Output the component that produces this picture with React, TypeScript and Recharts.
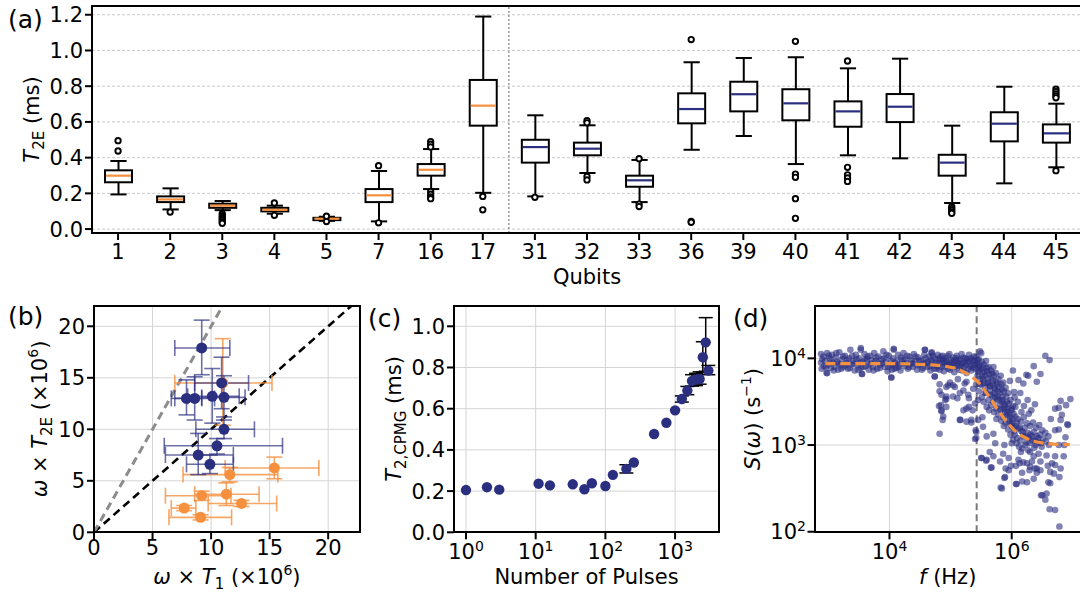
import {
  Bar,
  CartesianGrid,
  ComposedChart,
  ErrorBar,
  ReferenceLine,
  Scatter,
  XAxis,
  YAxis,
} from "recharts";

const FONT = "'DejaVu Sans', Verdana, sans-serif";
const NAVY = "#2b2f80";
const ORANGE = "#f5903e";
const GRID = "#d4d4d4";
const FS = 21;

// ---------- (a) T2E distribution per qubit ----------
const qubits = ["1", "2", "3", "4", "5", "7", "16", "17", "31", "32", "33", "36", "39", "40", "41", "42", "43", "44", "45"];
const orangeQubits = ["1", "2", "3", "4", "5", "7", "16", "17"];
const whiskerLow = [0.194, 0.11, 0.106, 0.086, 0.046, 0.043, 0.224, 0.203, 0.183, 0.314, 0.151, 0.444, 0.521, 0.364, 0.413, 0.396, 0.146, 0.256, 0.346];
const quart1 = [0.262, 0.151, 0.119, 0.099, 0.05, 0.151, 0.299, 0.579, 0.372, 0.413, 0.237, 0.592, 0.659, 0.609, 0.573, 0.599, 0.299, 0.491, 0.484];
const medians = [0.299, 0.166, 0.131, 0.108, 0.058, 0.189, 0.332, 0.691, 0.459, 0.45, 0.273, 0.672, 0.755, 0.704, 0.659, 0.685, 0.372, 0.59, 0.536];
const quart3 = [0.329, 0.183, 0.142, 0.119, 0.063, 0.224, 0.364, 0.835, 0.5, 0.484, 0.299, 0.76, 0.825, 0.783, 0.715, 0.756, 0.416, 0.654, 0.586];
const whiskerHigh = [0.381, 0.228, 0.157, 0.131, 0.069, 0.325, 0.448, 1.19, 0.637, 0.581, 0.387, 0.934, 0.958, 0.962, 0.9, 0.954, 0.579, 0.797, 0.702];
const outliers: Record<string, number[]> = {
  "1": [0.495, 0.437],
  "2": [0.095],
  "3": [0.086, 0.075, 0.066, 0.058, 0.049, 0.04, 0.032],
  "4": [0.146, 0.077],
  "5": [0.072, 0.042],
  "7": [0.355, 0.035],
  "16": [0.49, 0.475, 0.46, 0.21, 0.195, 0.18, 0.17],
  "17": [0.183, 0.108],
  "31": [0.178],
  "32": [0.607, 0.595, 0.294, 0.275],
  "33": [0.394, 0.14, 0.126],
  "36": [1.061, 0.043, 0.038],
  "40": [1.051, 0.308, 0.29, 0.17, 0.06],
  "41": [0.941, 0.346, 0.304, 0.286, 0.267],
  "43": [0.125, 0.115, 0.105, 0.095, 0.088],
  "45": [0.783, 0.77, 0.757, 0.745, 0.735, 0.327],
};
const t2eTicks = [0, 0.2, 0.4, 0.6, 0.8, 1.0, 1.2];

// ---------- (b) omega*T2E vs omega*T1 ----------
const navyT1 = [9.2, 10.9, 7.9, 8.6, 10.1, 11.1, 11.1, 10.5, 8.9, 9.9];
const navyT1Lo = [6.9, 8.6, 6.6, 6.9, 8.0, 9.2, 8.7, 6.0, 6.1, 7.9];
const navyT1Hi = [11.6, 13.2, 9.2, 10.3, 12.4, 12.9, 13.7, 16.1, 11.9, 11.9];
const navyT2 = [17.9, 14.5, 13.0, 13.0, 13.2, 13.1, 10.0, 8.4, 7.5, 6.6];
const navyT2Lo = [15.3, 12.0, 11.4, 10.9, 10.6, 11.2, 9.1, 7.6, 5.6, 5.7];
const navyT2Hi = [20.6, 17.0, 14.8, 15.1, 15.9, 15.2, 10.9, 9.1, 9.6, 7.5];
const orangeT1 = [15.4, 11.6, 9.2, 11.3, 12.6, 7.7, 9.1, 11.0];
const orangeT1Lo = [11.2, 7.6, 6.1, 8.6, 9.75, 6.6, 6.4, 6.9];
const orangeT1Hi = [19.2, 15.7, 11.7, 14.1, 15.6, 8.7, 11.75, 15.2];
const orangeT2 = [6.25, 5.6, 3.55, 3.7, 2.8, 2.35, 1.45, 14.5];
const orangeT2Lo = [5.2, 4.9, 3.1, 2.6, 2.5, 2.1, 1.2, 10.4];
const orangeT2Hi = [7.3, 6.3, 4.0, 4.8, 3.1, 2.6, 1.7, 18.8];
const ratioLines = [1, 2];
const omegaTicks = [0, 5, 10, 15, 20];

// ---------- (c) T2,CPMG vs number of pulses ----------
const pulses = [1, 2, 3, 11, 16, 34, 50, 64, 100, 128, 200, 256, 500, 750, 1000, 1250, 1500, 1750, 2000, 2250, 2500, 2750, 3000];
const t2cpmg = [0.205, 0.219, 0.207, 0.236, 0.228, 0.233, 0.209, 0.238, 0.225, 0.279, 0.308, 0.339, 0.477, 0.532, 0.592, 0.647, 0.688, 0.735, 0.742, 0.744, 0.85, 0.922, 0.785];
const t2ErrDown = [0, 0, 0, 0, 0, 0, 0, 0, 0, 0, 0.02, 0, 0, 0, 0, 0.015, 0.02, 0.025, 0.03, 0.025, 0.075, 0.14, 0.02];
const t2ErrUp = [0, 0, 0, 0, 0, 0, 0, 0, 0, 0, 0.02, 0, 0, 0, 0, 0.015, 0.02, 0.03, 0.03, 0.035, 0.075, 0.12, 0.025];
const cpmgTicks = [0, 0.2, 0.4, 0.6, 0.8, 1.0];
const pulseTicks = [1, 10, 100, 1000];

// ---------- (d) noise spectrum, [log10 f, log10 S] ----------
const plateauLog: [number, number][] = [
  [2.88, 4.05], [2.88, 3.95], [2.89, 3.88], [2.92, 4.02], [2.93, 3.91], [2.95, 3.97], [2.97, 3.83], [2.98, 4.06], [3.0, 3.93], [3.02, 4.0],
  [3.04, 3.89], [3.06, 4.04], [3.08, 3.95], [3.1, 3.9], [3.12, 4.01], [3.14, 3.96], [3.16, 3.87], [3.18, 4.07], [3.2, 3.93], [3.22, 3.99],
  [3.25, 3.9], [3.27, 4.03], [3.29, 3.95], [3.32, 3.88], [3.34, 4.0], [3.36, 4.1], [3.38, 3.93], [3.41, 3.97], [3.43, 3.86], [3.45, 4.04],
  [3.48, 3.92], [3.5, 4.0], [3.53, 4.12], [3.53, 3.89], [3.55, 3.82], [3.56, 3.96], [3.59, 4.05], [3.61, 3.91], [3.63, 3.99], [3.66, 3.87],
  [3.68, 4.03], [3.7, 3.94], [3.73, 3.9], [3.75, 4.06], [3.77, 3.97], [3.8, 3.88], [3.82, 4.02], [3.85, 3.93], [3.87, 3.99], [3.9, 4.08],
  [3.92, 3.9], [3.94, 3.96], [3.97, 3.85], [3.99, 4.03], [4.01, 3.92], [4.03, 3.78], [4.04, 3.87], [4.06, 4.0], [4.07, 4.11], [4.09, 3.95],
  [4.11, 3.89], [4.14, 4.04], [4.16, 3.93], [4.18, 3.86], [4.21, 3.98], [4.23, 4.06], [4.26, 3.91], [4.28, 3.95], [4.3, 3.88], [4.33, 4.02],
  [4.35, 3.94], [4.38, 3.9], [4.4, 4.05], [4.42, 3.97], [4.45, 3.87], [4.47, 4.01], [4.5, 3.93], [4.52, 3.98], [4.55, 3.89], [4.57, 4.04],
  [4.58, 4.1], [4.6, 3.95], [4.62, 3.9], [4.65, 4.02], [4.67, 3.86], [4.69, 4.07], [4.7, 3.96], [4.72, 3.92], [4.74, 3.79], [4.75, 4.0],
  [4.77, 3.88], [4.79, 4.04], [4.81, 3.94], [4.83, 3.99], [4.85, 3.9], [4.87, 4.03], [4.89, 3.85], [4.9, 3.96], [4.92, 4.0], [4.94, 3.92],
  [4.96, 3.88], [4.98, 4.05], [5.0, 3.95], [5.02, 3.9], [5.04, 4.01], [5.06, 3.84], [5.08, 3.97], [5.1, 4.03], [5.12, 3.92], [5.14, 3.87],
  [5.16, 3.99], [5.18, 4.05], [5.2, 3.94], [5.22, 3.89], [5.24, 4.0], [5.26, 3.83], [5.28, 3.96], [5.3, 4.04], [5.32, 3.91], [5.34, 3.86],
  [5.36, 3.98], [5.38, 4.02], [5.4, 3.93],
  [2.9, 3.99], [2.96, 3.9], [3.01, 4.03], [3.05, 3.96], [3.09, 3.86], [3.13, 4.06], [3.17, 3.94], [3.21, 3.88], [3.24, 4.02], [3.28, 3.92],
  [3.31, 3.98], [3.35, 3.89], [3.39, 4.03], [3.42, 3.94], [3.46, 3.99], [3.49, 3.87], [3.52, 3.95], [3.57, 3.9], [3.6, 3.99], [3.64, 4.02],
  [3.67, 3.93], [3.71, 3.98], [3.74, 3.86], [3.78, 4.01], [3.81, 3.95], [3.84, 3.89], [3.88, 3.94], [3.91, 4.0], [3.95, 4.04], [3.98, 3.9],
  [4.02, 3.97], [4.05, 3.93], [4.08, 3.88], [4.12, 3.97], [4.15, 3.9], [4.19, 4.01], [4.22, 3.94], [4.25, 3.99], [4.29, 4.03], [4.32, 3.9],
  [4.36, 3.98], [4.39, 3.94], [4.43, 4.02], [4.46, 3.92], [4.49, 3.97], [4.53, 3.87], [4.56, 3.94], [4.59, 4.0], [4.63, 3.96], [4.66, 3.91],
  [4.68, 3.98], [4.71, 4.03], [4.73, 3.88], [4.76, 3.95], [4.78, 3.91], [4.8, 3.99], [4.82, 3.87], [4.84, 4.02], [4.86, 3.95], [4.88, 3.98],
  [4.91, 3.91], [4.93, 3.97], [4.95, 4.03], [4.97, 3.93], [4.99, 3.87], [5.01, 3.98], [5.03, 3.93], [5.05, 3.96], [5.07, 3.9], [5.09, 4.0],
  [5.11, 3.95], [5.13, 3.98], [5.15, 3.91], [5.17, 3.94], [5.19, 3.86], [5.21, 4.01], [5.23, 3.95], [5.25, 3.92], [5.27, 3.99], [5.29, 3.88],
  [5.31, 3.97], [5.33, 4.0], [5.35, 3.92], [5.37, 3.89], [5.39, 3.97],
];
const rolloffLog: [number, number][] = [
  [5.42, 4.02], [5.43, 3.95], [5.41, 3.88], [5.44, 3.8], [5.42, 3.7],
  [5.46, 3.99], [5.47, 3.92], [5.45, 3.84], [5.48, 3.76], [5.46, 3.62],
  [5.5, 4.06], [5.51, 3.96], [5.49, 3.88], [5.52, 3.79], [5.5, 3.7], [5.51, 3.55],
  [5.54, 3.93], [5.55, 3.85], [5.53, 3.76], [5.56, 3.66], [5.54, 3.5],
  [5.58, 3.97], [5.59, 3.89], [5.57, 3.8], [5.6, 3.71], [5.58, 3.6], [5.59, 3.44],
  [5.62, 3.9], [5.63, 3.82], [5.61, 3.72], [5.64, 3.63], [5.62, 3.52], [5.63, 3.4],
  [5.66, 3.86], [5.67, 3.77], [5.65, 3.68], [5.68, 3.57], [5.66, 3.46],
  [5.7, 3.9], [5.71, 3.8], [5.69, 3.7], [5.72, 3.6], [5.7, 3.5], [5.71, 3.38],
  [5.74, 3.83], [5.75, 3.73], [5.73, 3.64], [5.76, 3.53], [5.74, 3.42], [5.75, 3.3],
  [5.78, 3.76], [5.79, 3.67], [5.77, 3.56], [5.8, 3.46], [5.78, 3.35],
  [5.82, 3.8], [5.83, 3.7], [5.81, 3.6], [5.84, 3.5], [5.82, 3.4], [5.83, 3.28],
  [5.86, 3.72], [5.87, 3.62], [5.85, 3.52], [5.88, 3.42], [5.86, 3.32], [5.87, 3.22],
  [5.9, 3.66], [5.91, 3.56], [5.89, 3.45], [5.92, 3.35], [5.9, 3.25],
  [5.94, 3.6], [5.95, 3.48], [5.93, 3.38], [5.96, 3.28], [5.94, 3.18],
  [5.98, 3.52], [5.99, 3.42], [5.97, 3.32], [6.0, 3.22], [5.98, 3.12],
  [6.02, 3.45], [6.03, 3.36], [6.01, 3.26], [6.04, 3.16], [6.02, 3.06],
  [5.44, 3.98], [5.45, 3.9], [5.47, 3.86], [5.48, 3.7], [5.52, 3.9], [5.53, 3.83], [5.55, 3.72], [5.56, 3.6], [5.6, 3.85], [5.61, 3.77],
  [5.64, 3.68], [5.65, 3.58], [5.68, 3.83], [5.69, 3.74], [5.72, 3.66], [5.73, 3.55], [5.76, 3.7], [5.77, 3.62], [5.8, 3.52], [5.81, 3.42],
  [5.84, 3.64], [5.85, 3.56], [5.88, 3.47], [5.89, 3.38], [5.92, 3.5], [5.93, 3.42], [5.96, 3.35], [5.97, 3.25], [6.0, 3.4], [6.01, 3.3],
  [6.03, 3.2],
];
const tailLog: [number, number][] = [
  [6.06, 3.33], [6.07, 3.22], [6.05, 3.12], [6.08, 3.02], [6.1, 3.3], [6.11, 3.19], [6.09, 3.08], [6.12, 2.98],
  [6.15, 3.27], [6.16, 3.16], [6.14, 3.05], [6.17, 2.96], [6.2, 3.32], [6.21, 3.2], [6.19, 3.1], [6.22, 3.0],
  [6.25, 3.25], [6.26, 3.14], [6.24, 3.03], [6.27, 2.94], [6.3, 3.22], [6.31, 3.12], [6.29, 3.02],
  [6.35, 3.26], [6.36, 3.15], [6.34, 3.05], [6.37, 2.97], [6.4, 3.2], [6.41, 3.1], [6.39, 3.0],
  [6.45, 3.23], [6.46, 3.12], [6.44, 3.03], [6.5, 3.17], [6.51, 3.07], [6.49, 2.98], [6.55, 3.14], [6.56, 3.04],
  [6.6, 3.1], [6.61, 3.0], [6.05, 3.55], [6.1, 3.5], [6.14, 3.6], [6.2, 3.45], [6.26, 3.52], [6.32, 3.4],
  [6.38, 3.47], [6.06, 3.44], [6.16, 3.38], [6.28, 3.36],
  [6.08, 3.26], [6.13, 3.2], [6.18, 3.15], [6.23, 3.1], [6.28, 3.08], [6.33, 3.1], [6.38, 3.05], [6.43, 3.08], [6.48, 3.02],
];
const strayLog: [number, number][] = [
  [2.98, 3.83], [3.53, 4.1], [3.55, 3.82], [4.03, 3.78], [4.07, 4.1], [4.58, 4.1], [4.69, 4.06], [4.74, 3.79],
  [4.85, 3.58], [4.81, 3.45], [4.85, 3.39], [4.88, 3.33], [4.87, 3.29], [4.82, 3.13], [4.93, 3.53], [4.93, 3.44], [4.96, 3.69],
  [4.82, 3.62], [4.84, 3.46], [4.93, 3.56], [5.15, 3.29], [5.26, 3.42], [5.11, 3.54], [5.34, 3.29], [5.4, 3.07], [5.42, 3.15],
  [5.04, 3.69], [4.99, 3.72], [4.82, 3.7], [5.23, 3.71], [5.29, 3.58], [5.4, 3.48],
  [5.15, 3.6], [5.21, 3.63], [5.04, 3.56], [4.91, 3.52], [4.85, 3.4], [4.93, 3.67], [5.07, 3.67], [5.12, 3.76], [5.26, 3.73],
  [5.37, 3.65], [5.3, 3.54], [5.45, 3.52], [5.36, 3.4], [5.3, 3.44], [5.21, 3.4], [5.16, 3.29], [5.26, 3.27], [5.34, 3.26],
  [5.42, 3.08], [5.41, 3.17], [5.45, 3.29], [5.53, 3.21], [5.52, 3.32], [5.59, 3.1], [5.7, 3.13], [5.73, 3.02],
  [5.51, 2.85], [5.59, 2.83], [5.67, 2.74], [5.64, 2.92], [5.7, 2.87], [5.81, 2.81], [5.86, 2.9], [5.95, 2.85], [6.11, 2.83],
  [6.19, 2.8], [5.84, 2.5], [5.89, 2.63], [6.07, 2.55], [6.17, 2.68], [6.25, 2.57], [6.36, 2.87], [6.47, 2.81], [6.41, 2.73],
  [6.59, 2.76], [6.57, 2.44], [6.5, 2.42], [6.55, 2.37], [6.71, 2.25], [6.78, 2.06], [6.63, 2.56], [6.69, 2.67], [6.71, 2.87],
  [6.85, 2.87], [6.88, 3.09], [6.77, 3.18], [6.92, 3.23], [6.82, 3.35], [6.89, 3.46], [6.96, 3.53],
  [6.55, 4.03], [6.62, 3.98], [6.36, 3.91], [6.27, 3.8], [6.41, 3.73], [6.19, 3.71], [6.02, 3.86], [6.11, 3.75], [6.47, 3.82],
  [6.24, 3.81], [5.97, 3.74], [6.04, 3.61], [6.8, 3.51], [6.71, 3.42], [6.91, 3.24],
  [5.48, 4.08], [5.88, 3.0], [6.0, 3.02], [6.15, 2.92], [6.3, 2.92], [6.44, 2.9], [6.57, 2.88], [6.66, 2.79], [6.47, 2.71],
  [6.3, 2.75], [6.25, 2.79], [5.99, 2.76], [5.95, 2.71], [6.17, 2.58], [6.41, 2.68], [6.71, 2.77], [6.86, 3.0], [6.77, 3.0],
  [6.71, 3.17], [6.8, 3.29], [6.64, 3.3], [6.77, 3.43],
  [5.5, 2.85], [5.58, 2.82], [5.66, 2.74], [5.82, 2.51], [5.88, 2.62], [6.07, 2.76], [6.08, 2.55], [6.29, 2.71], [6.38, 2.73],
  [6.36, 2.61], [6.48, 2.42], [6.62, 2.26], [6.6, 2.57], [6.78, 2.63], [6.63, 2.69], [6.8, 2.73], [6.33, 2.81], [5.9, 2.73], [6.13, 2.79],
];
const fitLog: [number, number][] = [
  [2.95, 3.94], [3.5, 3.94], [4.0, 3.94], [4.4, 3.935], [4.7, 3.925], [4.9, 3.91], [5.05, 3.89], [5.15, 3.865], [5.25, 3.83],
  [5.34, 3.79], [5.43, 3.74], [5.5, 3.69], [5.57, 3.62], [5.65, 3.54], [5.72, 3.46], [5.8, 3.38], [5.87, 3.31], [5.95, 3.24],
  [6.03, 3.18], [6.1, 3.135], [6.18, 3.1], [6.26, 3.07], [6.35, 3.045], [6.45, 3.03], [6.55, 3.02], [6.7, 3.01], [6.95, 3.005],
];
const cutoffHz = 2.67e5;
const freqTicks = [1e4, 1e6];
const specTicks = [100, 1000, 10000];

// ---------- derived rows ----------
const boxRows = qubits.map((qubit, i) => ({
  qubit,
  idx: i,
  lo: whiskerLow[i],
  q1: quart1[i],
  med: medians[i],
  q3: quart3[i],
  hi: whiskerHigh[i],
}));
const outlierRows = qubits.flatMap((qubit) => (outliers[qubit] ?? []).map((v) => ({ qubit, v })));

const toOmegaRows = (t1: number[], t1Lo: number[], t1Hi: number[], t2: number[], t2Lo: number[], t2Hi: number[]) =>
  t1.map((x, i) => ({
    x,
    y: t2[i],
    ex: [x - t1Lo[i], t1Hi[i] - x],
    ey: [t2[i] - t2Lo[i], t2Hi[i] - t2[i]],
  }));
const navyRows = toOmegaRows(navyT1, navyT1Lo, navyT1Hi, navyT2, navyT2Lo, navyT2Hi);
const orangeRows = toOmegaRows(orangeT1, orangeT1Lo, orangeT1Hi, orangeT2, orangeT2Lo, orangeT2Hi);

const cpmgRows = pulses.map((n, i) => ({ n, t: t2cpmg[i], err: [t2ErrDown[i], t2ErrUp[i]] }));
const cpmgErrRows = cpmgRows.filter((r) => r.err[0] + r.err[1] > 0);

const specRows = [...plateauLog, ...rolloffLog, ...tailLog, ...strayLog].map(([lf, ls]) => ({ f: 10 ** lf, s: 10 ** ls }));
const fitRows = fitLog.map(([lf, ls]) => ({ f: 10 ** lf, s: 10 ** ls }));

// ---------- pieces ----------
const tickStyle = { fontSize: FS, fill: "#000", fontFamily: FONT };
const tickLine = { stroke: "#000", strokeWidth: 2 };
const noMark = () => <g />;

function BoxShape(props: any) {
  const { x, y, width, height, payload } = props;
  if (!payload) return null;
  const top = Math.min(y, y + height);
  const span = Math.abs(height);
  const { lo, hi, q1, med, q3, qubit } = payload;
  const py = (v: number) => top + (span * (hi - v)) / (hi - lo);
  const cx = x + width / 2;
  const cap = width * 0.3;
  const color = orangeQubits.includes(qubit) ? ORANGE : NAVY;
  return (
    <g>
      <line x1={cx} x2={cx} y1={py(hi)} y2={py(q3)} stroke="#000" strokeWidth={2} />
      <line x1={cx} x2={cx} y1={py(q1)} y2={py(lo)} stroke="#000" strokeWidth={2} />
      <line x1={cx - cap} x2={cx + cap} y1={py(hi)} y2={py(hi)} stroke="#000" strokeWidth={2} />
      <line x1={cx - cap} x2={cx + cap} y1={py(lo)} y2={py(lo)} stroke="#000" strokeWidth={2} />
      <rect x={x} y={py(q3)} width={width} height={py(q1) - py(q3)} fill="#fff" stroke="#000" strokeWidth={2} />
      <line x1={x + 1} x2={x + width - 1} y1={py(med)} y2={py(med)} stroke={color} strokeWidth={2.2} />
    </g>
  );
}

function PowTick(props: any) {
  const { x, y, payload, axis } = props;
  const exp = Math.round(Math.log10(payload.value));
  const isX = axis === "x";
  return (
    <text x={x} y={y} textAnchor={isX ? "middle" : "end"} fontFamily={FONT} fontSize={FS} fill="#000">
      <tspan dy={isX ? 18 : 7.5}>10</tspan>
      <tspan dy={-8} fontSize={14}>{exp}</tspan>
    </text>
  );
}

function Frame({ x0, y0, x1, y1 }: { x0: number; y0: number; x1: number; y1: number }) {
  return (
    <div
      style={{
        position: "absolute",
        left: x0 - 1,
        top: y0 - 1,
        width: x1 - x0 + 2,
        height: y1 - y0 + 2,
        border: "2px solid #000",
        boxSizing: "border-box",
        pointerEvents: "none",
      }}
    />
  );
}

const box = (left: number, top: number): React.CSSProperties => ({ position: "absolute", left, top });

function PanelA() {
  return (
    <div style={box(0, 0)}>
      <ComposedChart width={1100} height={300} data={boxRows} margin={{ top: 6, right: 18, left: 0, bottom: 0 }}>
        <CartesianGrid vertical={false} stroke="#cacaca" strokeDasharray="3 2" />
        <XAxis
          dataKey="qubit"
          type="category"
          allowDuplicatedCategory={false}
          interval={0}
          height={67}
          axisLine={false}
          tickLine={tickLine}
          tickSize={7}
          tickMargin={4}
          tick={tickStyle}
        />
        <XAxis xAxisId="sep" dataKey="idx" type="number" domain={[-0.5, 18.5]} allowDataOverflow hide />
        <YAxis
          type="number"
          width={92}
          domain={[-0.022, 1.249]}
          ticks={t2eTicks}
          allowDataOverflow
          axisLine={false}
          tickLine={tickLine}
          tickSize={7}
          tickMargin={2}
          tick={tickStyle}
          tickFormatter={(v: number) => v.toFixed(1)}
        />
        <ReferenceLine xAxisId="sep" x={7.5} stroke="#8a8a8a" strokeWidth={1.3} strokeDasharray="2 2" />
        <Bar dataKey={(d: any) => [d.lo, d.hi]} barSize={27} shape={<BoxShape />} isAnimationActive={false} />
        <Scatter
          data={outlierRows}
          dataKey="v"
          isAnimationActive={false}
          shape={(p: any) => <circle cx={p.cx} cy={p.cy} r={2.7} fill="#fff" stroke="#000" strokeWidth={1.9} />}
        />
      </ComposedChart>
      <Frame x0={92} y0={6} x1={1082} y1={233} />
    </div>
  );
}

function PanelB() {
  return (
    <div style={box(0, 290)}>
      <ComposedChart width={380} height={305} margin={{ top: 15.7, right: 20.2, left: 0, bottom: 0 }}>
        <CartesianGrid stroke={GRID} />
        <XAxis
          dataKey="x"
          type="number"
          domain={[0, 22.7]}
          ticks={omegaTicks}
          allowDataOverflow
          height={62.7}
          axisLine={false}
          tickLine={tickLine}
          tickSize={7}
          tickMargin={1}
          tick={tickStyle}
        />
        <YAxis
          dataKey="y"
          type="number"
          domain={[0, 22]}
          ticks={omegaTicks}
          allowDataOverflow
          width={94}
          axisLine={false}
          tickLine={tickLine}
          tickSize={7}
          tickMargin={2}
          tick={tickStyle}
        />
        {ratioLines.map((r) => (
          <ReferenceLine
            key={r}
            segment={[{ x: 0, y: 0 }, { x: 22 / r, y: 22 }]}
            stroke={r === 1 ? "#000" : "#8c8c8c"}
            strokeWidth={r === 1 ? 2.6 : 3}
            strokeDasharray="8 5"
          />
        ))}
        <Scatter
          data={orangeRows}
          dataKey="y"
          isAnimationActive={false}
          shape={(p: any) => <circle cx={p.cx} cy={p.cy} r={5.5} fill={ORANGE} />}
        >
          <ErrorBar dataKey="ex" direction="x" width={8} stroke="#f5903ecc" strokeWidth={1.6} />
          <ErrorBar dataKey="ey" direction="y" width={8} stroke="#f5903ecc" strokeWidth={1.6} />
        </Scatter>
        <Scatter
          data={navyRows}
          dataKey="y"
          isAnimationActive={false}
          shape={(p: any) => <circle cx={p.cx} cy={p.cy} r={5.5} fill={NAVY} />}
        >
          <ErrorBar dataKey="ex" direction="x" width={8} stroke="#2b2f80b0" strokeWidth={1.6} />
          <ErrorBar dataKey="ey" direction="y" width={8} stroke="#2b2f80b0" strokeWidth={1.6} />
        </Scatter>
      </ComposedChart>
      <Frame x0={94} y0={15.7} x1={359.8} y1={242.3} />
    </div>
  );
}

function PanelC() {
  return (
    <div style={box(380, 290)}>
      <ComposedChart width={360} height={305} margin={{ top: 15.7, right: 21, left: 0, bottom: 0 }}>
        <CartesianGrid stroke={GRID} />
        <XAxis
          dataKey="n"
          type="number"
          scale="log"
          domain={[0.673, 4266]}
          ticks={pulseTicks}
          allowDataOverflow
          height={62.7}
          axisLine={false}
          tickLine={tickLine}
          tickSize={7}
          tickMargin={2}
          tick={<PowTick axis="x" />}
        />
        <YAxis
          dataKey="t"
          type="number"
          domain={[0, 1.1]}
          ticks={cpmgTicks}
          allowDataOverflow
          width={74}
          axisLine={false}
          tickLine={tickLine}
          tickSize={7}
          tickMargin={2}
          tick={tickStyle}
          tickFormatter={(v: number) => v.toFixed(1)}
        />
        <Scatter data={cpmgErrRows} dataKey="t" isAnimationActive={false} shape={noMark}>
          <ErrorBar dataKey="err" direction="y" width={7} stroke="#000" strokeWidth={1.5} />
        </Scatter>
        <Scatter
          data={cpmgRows}
          dataKey="t"
          isAnimationActive={false}
          shape={(p: any) => <circle cx={p.cx} cy={p.cy} r={5.2} fill={NAVY} />}
        />
      </ComposedChart>
      <Frame x0={74} y0={15.7} x1={339} y1={242.3} />
    </div>
  );
}

function PanelD() {
  return (
    <div style={box(740, 290)}>
      <ComposedChart width={360} height={305} margin={{ top: 15.7, right: 19, left: 0, bottom: 0 }}>
        <CartesianGrid stroke={GRID} />
        <XAxis
          dataKey="f"
          type="number"
          scale="log"
          domain={[593, 1.36e7]}
          ticks={freqTicks}
          allowDataOverflow
          height={62.7}
          axisLine={false}
          tickLine={tickLine}
          tickSize={7}
          tickMargin={2}
          tick={<PowTick axis="x" />}
        />
        <YAxis
          dataKey="s"
          type="number"
          scale="log"
          domain={[98.5, 40500]}
          ticks={specTicks}
          allowDataOverflow
          width={74.5}
          axisLine={false}
          tickLine={tickLine}
          tickSize={7}
          tickMargin={1.5}
          tick={<PowTick axis="y" />}
        />
        <Scatter
          data={specRows}
          dataKey="s"
          isAnimationActive={false}
          shape={(p: any) => <circle cx={p.cx} cy={p.cy} r={3.3} fill={NAVY} fillOpacity={0.6} />}
        />
        <ReferenceLine x={cutoffHz} stroke="#7a7a7a" strokeWidth={2} strokeDasharray="7 4" />
        <Scatter
          data={fitRows}
          dataKey="s"
          isAnimationActive={false}
          shape={noMark}
          line={{ stroke: ORANGE, strokeWidth: 3.2, strokeDasharray: "10 5" }}
          lineType="joint"
        />
      </ComposedChart>
      <Frame x0={74.5} y0={15.7} x1={341} y1={242.3} />
    </div>
  );
}

function Labels() {
  const sub = { fontSize: 15 };
  const sup = { fontSize: 14 };
  return (
    <svg
      width={1080}
      height={595}
      style={{ position: "absolute", left: 0, top: 0, pointerEvents: "none" }}
      fontFamily={FONT}
      fill="#000"
    >
      <text x={8} y={27.5} fontSize={25}>(a)</text>
      <text x={8} y={325} fontSize={25}>(b)</text>
      <text x={368} y={327} fontSize={25}>(c)</text>
      <text x={733} y={327} fontSize={25}>(d)</text>

      <text x={587} y={284} fontSize={FS} textAnchor="middle">Qubits</text>
      <text x={226.9} y={583.5} fontSize={FS} textAnchor="middle">
        <tspan fontStyle="italic">ω</tspan>
        <tspan>{" × "}</tspan>
        <tspan fontStyle="italic">T</tspan>
        <tspan dy={5} {...sub}>1</tspan>
        <tspan dy={-5}>{" (×10"}</tspan>
        <tspan dy={-9} {...sup}>6</tspan>
        <tspan dy={9}>)</tspan>
      </text>
      <text x={586.5} y={583.5} fontSize={FS} textAnchor="middle">Number of Pulses</text>
      <text x={947.7} y={583.5} fontSize={FS} textAnchor="middle">
        <tspan fontStyle="italic">f</tspan>
        <tspan>{" (Hz)"}</tspan>
      </text>

      <g transform="translate(39,119.5) rotate(-90)">
        <text x={0} y={0} fontSize={FS} textAnchor="middle">
          <tspan fontStyle="italic">T</tspan>
          <tspan dy={5} {...sub}>2E</tspan>
          <tspan dy={-5}>{" (ms)"}</tspan>
        </text>
      </g>
      <g transform="translate(47,419) rotate(-90)">
        <text x={0} y={0} fontSize={FS} textAnchor="middle">
          <tspan fontStyle="italic">ω</tspan>
          <tspan>{" × "}</tspan>
          <tspan fontStyle="italic">T</tspan>
          <tspan dy={5} {...sub}>2E</tspan>
          <tspan dy={-5}>{" (×10"}</tspan>
          <tspan dy={-9} {...sup}>6</tspan>
          <tspan dy={9}>)</tspan>
        </text>
      </g>
      <g transform="translate(401,419) rotate(-90)">
        <text x={0} y={0} fontSize={FS} textAnchor="middle">
          <tspan fontStyle="italic">T</tspan>
          <tspan dy={5} {...sub}>2,CPMG</tspan>
          <tspan dy={-5}>{" (ms)"}</tspan>
        </text>
      </g>
      <g transform="translate(760,419) rotate(-90)">
        <text x={0} y={0} fontSize={FS} textAnchor="middle">
          <tspan fontStyle="italic">S</tspan>
          <tspan>(</tspan>
          <tspan fontStyle="italic">ω</tspan>
          <tspan>{") (s"}</tspan>
          <tspan dy={-9} {...sup}>−1</tspan>
          <tspan dy={9}>)</tspan>
        </text>
      </g>
    </svg>
  );
}

export default function App() {
  return (
    <div
      style={{
        position: "absolute",
        left: 0,
        top: 0,
        width: 1080,
        height: 595,
        overflow: "hidden",
        background: "#fff",
        fontFamily: FONT,
      }}
    >
      <PanelA />
      <PanelB />
      <PanelC />
      <PanelD />
      <Labels />
    </div>
  );
}
